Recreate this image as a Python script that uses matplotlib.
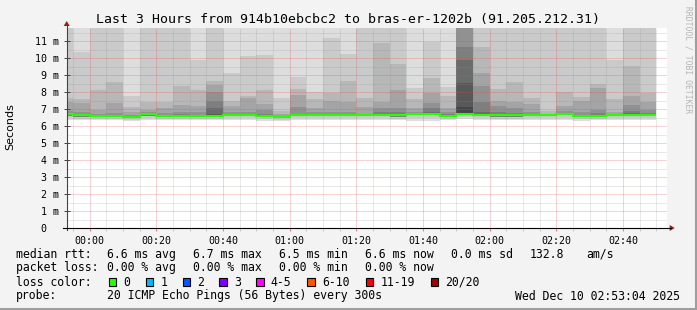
import numpy as np
import matplotlib
matplotlib.use('Agg')
import matplotlib.pyplot as plt
from matplotlib.patches import Rectangle, Polygon

plt.rcParams['font.family'] = 'DejaVu Sans Mono'

# 5 minute steps, minutes after 00:00 (first bar starts 23:50, last 02:45)
bar_start = np.arange(-10, 170, 5)

# median rtt per step (ms)
median = [6.68, 6.63, 6.59, 6.59, 6.55, 6.69, 6.59, 6.59, 6.59, 6.61,
          6.65, 6.65, 6.59, 6.57, 6.65, 6.65, 6.65, 6.67, 6.65, 6.65,
          6.63, 6.72, 6.73, 6.61, 6.72, 6.67, 6.63, 6.63, 6.67, 6.67,
          6.72, 6.61, 6.61, 6.67, 6.65, 6.65]

# lowest, 2nd and 3rd lowest ping per step (ms)
ping_min = [6.36, 6.34, 6.34, 6.34, 6.28, 6.34, 6.36, 6.34, 6.36, 6.36,
            6.38, 6.38, 6.32, 6.27, 6.38, 6.38, 6.38, 6.38, 6.34, 6.38,
            6.36, 6.32, 6.30, 6.36, 6.40, 6.38, 6.36, 6.36, 6.36, 6.38,
            6.36, 6.28, 6.36, 6.38, 6.38, 6.38]
ping_2nd = [6.48, 6.44, 6.40, 6.40, 6.36, 6.48, 6.40, 6.40, 6.42, 6.42,
            6.46, 6.46, 6.40, 6.36, 6.46, 6.46, 6.46, 6.48, 6.45, 6.46,
            6.44, 6.50, 6.50, 6.42, 6.52, 6.48, 6.44, 6.44, 6.46, 6.48,
            6.50, 6.40, 6.42, 6.48, 6.46, 6.46]
ping_3rd = [6.60, 6.55, 6.51, 6.51, 6.47, 6.61, 6.51, 6.51, 6.51, 6.53,
            6.57, 6.57, 6.51, 6.49, 6.57, 6.57, 6.57, 6.59, 6.57, 6.57,
            6.55, 6.64, 6.65, 6.53, 6.64, 6.59, 6.55, 6.55, 6.59, 6.59,
            6.64, 6.53, 6.53, 6.59, 6.57, 6.57]

# upper ping of each smoke pair, outermost pair first (ms)
smoke_hi = [
    [12.6, 12.2, 7.67, 7.39, 6.90, 6.74],
    [12.4, 10.37, 7.59, 7.33, 6.80, 6.70],
    [12.6, 12.1, 8.12, 6.94, 6.72],
    [12.6, 12.1, 8.61, 7.33, 6.78],
    [12.3, 7.76, 7.14, 6.80, 6.66],
    [12.6, 12.1, 7.43, 6.94, 6.80, 6.74],
    [12.6, 12.1, 7.43, 7.04, 6.74],
    [12.6, 12.1, 8.37, 7.24, 6.80, 6.69],
    [12.4, 9.88, 8.12, 7.18, 6.80],
    [12.6, 12.1, 8.65, 8.41, 8.02, 7.47, 7.08, 6.69],
    [12.4, 9.10, 7.47, 7.20, 6.80, 6.69],
    [12.4, 10.14, 7.78, 7.63, 6.80],
    [12.4, 10.18, 8.12, 7.27, 6.94, 6.69],
    [12.3, 7.63, 6.88, 6.69],
    [12.4, 8.90, 8.18, 7.82, 7.14, 6.69],
    [12.3, 7.98, 7.59, 7.08, 6.80],
    [12.2, 11.16, 7.92, 7.47, 6.80],
    [12.6, 10.22, 8.65, 7.43, 6.80, 6.72],
    [12.6, 12.1, 7.67, 7.14, 6.69],
    [12.6, 12.1, 10.86, 7.43, 7.08, 6.80, 6.70],
    [12.6, 12.1, 9.63, 8.12, 7.04, 6.80],
    [12.3, 8.22, 7.59, 7.04, 6.80],
    [12.2, 10.96, 8.84, 7.92, 7.33, 7.04, 6.84],
    [12.3, 8.31, 7.78, 7.04, 6.80, 6.69],
    [13.0, 12.8, 12.6, 12.4, 12.2, 10.67, 9.88, 8.51, 7.14, 6.75],
    [12.6, 12.1, 10.67, 9.10, 8.37, 7.39, 6.80],
    [12.6, 12.1, 8.18, 7.47, 7.20, 6.80],
    [12.6, 12.1, 8.57, 7.39, 7.08, 6.74],
    [12.6, 12.1, 7.63, 7.27, 6.80],
    [12.6, 12.1, 6.88, 6.73],
    [12.6, 12.1, 8.02, 7.20, 6.88, 6.76],
    [12.6, 12.1, 7.73, 7.47, 6.84],
    [12.6, 12.1, 8.45, 8.22, 6.94, 6.74],
    [12.4, 9.88, 7.59, 6.80, 6.69],
    [12.6, 12.1, 9.55, 7.78, 7.24, 6.88, 6.74],
    [12.6, 12.1, 7.92, 7.39, 6.94, 6.76],
]

xtick_pos = [0, 20, 40, 60, 80, 100, 120, 140, 160]
xtick_lab = ['00:00', '00:20', '00:40', '01:00', '01:20', '01:40', '02:00', '02:20', '02:40']
ytick_pos = list(range(12))
ytick_lab = ['0  '] + ['%d m' % v for v in range(1, 12)]

loss_labels = ['0', '1', '2', '3', '4-5', '6-10', '11-19', '20/20']
loss_colors = ['#26ff00', '#00b8ff', '#0059ff', '#7e00ff', '#ff00ff', '#ff5500', '#ff0000', '#a10000']

# figure in pixel units
W, H = 697, 310
x0, x1 = 66.7, 666.7
ytop, ybot = 28, 228
fig = plt.figure(figsize=(W / 100, H / 100), dpi=100, facecolor='#f3f3f3')
ax = fig.add_axes([x0 / W, (H - ybot) / H, (x1 - x0) / W, (ybot - ytop) / H])
ax.set_facecolor('white')

# smoke: pair i spans ping i .. ping (n+1-i), darker toward the middle
lows = [ping_min, ping_2nd, ping_3rd]
for j in range(10):
    shade = int(190 / 10 * (10 - (j + 1))) + 50
    col = '#%02x%02x%02x' % (shade, shade, shade)
    xs, bots, tops = [], [], []
    for i, hi in enumerate(smoke_hi):
        if len(hi) > j:
            xs.append(bar_start[i])
            bots.append(lows[min(j, 2)][i])
            tops.append(hi[j])
    ax.bar(xs, np.array(tops) - np.array(bots), bottom=bots, width=5, align='edge',
           color=col, linewidth=0, antialiased=False, zorder=1)

edges = np.append(bar_start, bar_start[-1] + 5)
ax.stairs(median, edges, color='#26ff00', linewidth=1.5, zorder=3, baseline=None)

ax.set_xlim(-6.93, 173.07)
ax.set_ylim(0, 11.765)

ax.set_xticks(xtick_pos)
ax.set_xticklabels(xtick_lab, fontsize=7.2)
ax.set_xticks(np.arange(-5, 175, 5), minor=True)
ax.set_yticks(ytick_pos)
ax.set_yticklabels(ytick_lab, fontsize=7.2)
ax.set_yticks(np.arange(0.5, 11.8, 1.0), minor=True)

ax.tick_params(axis='x', which='major', direction='out', length=2.5, width=0.7,
               color='#e08080', pad=3)
ax.tick_params(axis='x', which='minor', direction='out', length=2.5, width=0.7,
               color='#c8c8c8')
ax.tick_params(axis='y', which='major', direction='inout', length=5, width=0.7,
               color='#444444', pad=3)
ax.tick_params(axis='y', which='minor', length=0)

ax.set_axisbelow(False)
ax.grid(which='major', color='#de5050', alpha=0.5, linewidth=0.72, linestyle=(0, (1, 1)))
ax.grid(which='minor', color='#8f8f8f', alpha=0.4, linewidth=0.72, linestyle=(0, (1, 1)))
for s in ax.spines.values():
    s.set_visible(False)

# overlay in pixel coordinates for frame, arrows and legend
ov = fig.add_axes([0, 0, 1, 1])
ov.set_xlim(0, W)
ov.set_ylim(H, 0)
ov.axis('off')

ov.plot([W - 1.5, W - 1.5], [0, H], color='#9e9e9e', linewidth=2.2)
ov.plot([0, W], [H - 1.5, H - 1.5], color='#9e9e9e', linewidth=2.2)

ov.plot([x0, x0], [ybot + 2, ytop - 3], color='#444444', linewidth=0.8)
ov.plot([x0 - 4, x1 + 4], [ybot, ybot], color='black', linewidth=0.8)
ov.add_patch(Polygon([[x0 - 3, ytop - 2], [x0 + 3, ytop - 2], [x0, ytop - 7]],
                     closed=True, color='#9c1c1c', linewidth=0))
ov.add_patch(Polygon([[x1 + 3, ybot - 3], [x1 + 3, ybot + 3], [x1 + 8, ybot]],
                     closed=True, color='#9c1c1c', linewidth=0))

ov.text(347.5, 19.3, 'Last 3 Hours from 914b10ebcbc2 to bras-er-1202b (91.205.212.31)',
        fontsize=9.5, ha='center', va='center')
ov.text(10.7, 127, 'Seconds', family='DejaVu Sans', fontsize=8, rotation=90,
        ha='center', va='center')
ov.text(688, 60, 'RRDTOOL / TOBI OETIKER', fontsize=5.8, rotation=270,
        ha='center', va='center', color='#b4b4b4')

fs = 8.3
row1 = [(16, 'median rtt:'), (107.3, '6.6 ms avg'), (193.3, '6.7 ms max'),
        (279.3, '6.5 ms min'), (365.3, '6.6 ms now'), (451, '0.0 ms sd'),
        (530, '132.8'), (586, 'am/s')]
row2 = [(16, 'packet loss:'), (107.3, '0.00 % avg'), (193.3, '0.00 % max'),
        (279.3, '0.00 % min'), (365.3, '0.00 % now')]
for x, s in row1:
    ov.text(x, 254.3, s, fontsize=fs, ha='left', va='center')
for x, s in row2:
    ov.text(x, 267.7, s, fontsize=fs, ha='left', va='center')

ov.text(16, 282, 'loss color:', fontsize=fs, ha='left', va='center')
sw_x = [108.7, 145.7, 182.7, 219.3, 256, 307.3, 365.7, 430.7]
for sx, lab, c in zip(sw_x, loss_labels, loss_colors):
    ov.add_patch(Rectangle((sx, 278.3), 7.5, 8, facecolor=c, edgecolor='black', linewidth=0.8))
    ov.text(sx + 14.6, 282, lab, fontsize=fs, ha='left', va='center')

ov.text(16, 296, 'probe:', fontsize=fs, ha='left', va='center')
ov.text(107.3, 296, '20 ICMP Echo Pings (56 Bytes) every 300s', fontsize=fs, ha='left', va='center')
ov.text(680, 296, 'Wed Dec 10 02:53:04 2025', fontsize=fs, ha='right', va='center')

fig.savefig('out.png', dpi=100, facecolor=fig.get_facecolor())
